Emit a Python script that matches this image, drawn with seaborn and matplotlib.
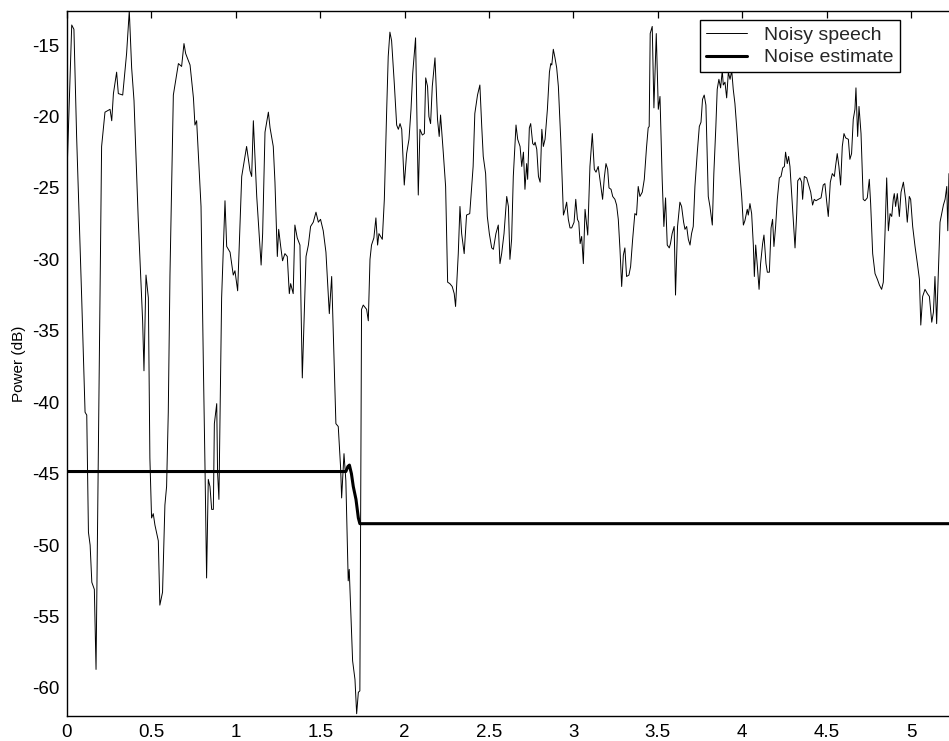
import numpy as np
import pandas as pd
import matplotlib
matplotlib.use("Agg")
import matplotlib.pyplot as plt
import seaborn as sns

# Frame power of the noisy speech signal (time in s, power in dB)
time_s = [
    0.000, 0.028, 0.041, 0.057, 0.087, 0.107, 0.117, 0.127, 0.137, 0.147,
    0.162, 0.172, 0.205, 0.225, 0.255, 0.265, 0.275, 0.294, 0.304, 0.330,
    0.353, 0.369, 0.383, 0.397, 0.422, 0.448, 0.456, 0.468, 0.482, 0.491,
    0.501, 0.511, 0.521, 0.541, 0.550, 0.566, 0.580, 0.590, 0.600, 0.610,
    0.630, 0.660, 0.679, 0.693, 0.703, 0.729, 0.749, 0.758, 0.768, 0.794,
    0.808, 0.818, 0.827, 0.837, 0.847, 0.857, 0.867, 0.873, 0.887, 0.892,
    0.900, 0.916, 0.936, 0.946, 0.966, 0.985, 0.995, 1.011, 1.035, 1.064,
    1.084, 1.094, 1.104, 1.124, 1.150, 1.159, 1.173, 1.193, 1.203, 1.222,
    1.232, 1.246, 1.254, 1.266, 1.277, 1.291, 1.305, 1.317, 1.325, 1.340,
    1.350, 1.364, 1.380, 1.394, 1.416, 1.430, 1.443, 1.459, 1.475, 1.489,
    1.502, 1.518, 1.534, 1.554, 1.568, 1.581, 1.593, 1.607, 1.621, 1.627,
    1.641, 1.652, 1.666, 1.672, 1.682, 1.692, 1.706, 1.716, 1.726, 1.735,
    1.745, 1.755, 1.775, 1.785, 1.795, 1.804, 1.818, 1.830, 1.834, 1.840,
    1.848, 1.868, 1.880, 1.894, 1.903, 1.913, 1.923, 1.939, 1.953, 1.963,
    1.973, 1.983, 1.998, 2.012, 2.026, 2.038, 2.048, 2.065, 2.081, 2.091,
    2.105, 2.117, 2.125, 2.136, 2.144, 2.154, 2.164, 2.180, 2.195, 2.205,
    2.213, 2.229, 2.243, 2.255, 2.268, 2.282, 2.294, 2.302, 2.318, 2.328,
    2.338, 2.353, 2.367, 2.386, 2.406, 2.416, 2.432, 2.446, 2.457, 2.466,
    2.480, 2.490, 2.502, 2.516, 2.526, 2.541, 2.555, 2.565, 2.575, 2.589,
    2.605, 2.615, 2.624, 2.634, 2.644, 2.660, 2.670, 2.684, 2.694, 2.704,
    2.713, 2.723, 2.729, 2.739, 2.747, 2.759, 2.767, 2.773, 2.783, 2.793,
    2.803, 2.813, 2.822, 2.832, 2.846, 2.858, 2.866, 2.872, 2.881, 2.891,
    2.901, 2.911, 2.925, 2.941, 2.951, 2.960, 2.970, 2.980, 2.990, 3.004,
    3.014, 3.024, 3.032, 3.040, 3.049, 3.059, 3.069, 3.085, 3.098, 3.112,
    3.124, 3.134, 3.147, 3.163, 3.173, 3.183, 3.193, 3.203, 3.211, 3.223,
    3.233, 3.246, 3.256, 3.266, 3.276, 3.286, 3.296, 3.305, 3.315, 3.329,
    3.339, 3.351, 3.364, 3.374, 3.384, 3.394, 3.408, 3.420, 3.433, 3.443,
    3.449, 3.455, 3.467, 3.477, 3.491, 3.503, 3.513, 3.526, 3.536, 3.546,
    3.556, 3.568, 3.575, 3.585, 3.597, 3.605, 3.617, 3.631, 3.641, 3.653,
    3.661, 3.671, 3.681, 3.691, 3.700, 3.710, 3.720, 3.734, 3.746, 3.756,
    3.765, 3.775, 3.785, 3.799, 3.809, 3.823, 3.832, 3.844, 3.852, 3.862,
    3.872, 3.882, 3.888, 3.898, 3.908, 3.918, 3.928, 3.938, 3.947, 3.957,
    3.967, 3.983, 3.997, 4.007, 4.016, 4.030, 4.036, 4.046, 4.056, 4.066,
    4.072, 4.080, 4.090, 4.100, 4.109, 4.121, 4.129, 4.141, 4.149, 4.161,
    4.171, 4.180, 4.188, 4.198, 4.208, 4.220, 4.230, 4.240, 4.250, 4.257,
    4.267, 4.275, 4.283, 4.293, 4.303, 4.313, 4.323, 4.329, 4.342, 4.352,
    4.358, 4.368, 4.382, 4.396, 4.406, 4.417, 4.427, 4.437, 4.451, 4.467,
    4.480, 4.490, 4.500, 4.510, 4.522, 4.534, 4.546, 4.553, 4.563, 4.573,
    4.583, 4.593, 4.603, 4.613, 4.629, 4.638, 4.648, 4.658, 4.668, 4.674,
    4.684, 4.692, 4.704, 4.717, 4.727, 4.741, 4.753, 4.761, 4.773, 4.787,
    4.801, 4.813, 4.826, 4.836, 4.846, 4.856, 4.866, 4.876, 4.886, 4.895,
    4.901, 4.909, 4.919, 4.931, 4.941, 4.955, 4.968, 4.978, 4.990, 4.998,
    5.010, 5.024, 5.038, 5.050, 5.058, 5.069, 5.083, 5.097, 5.109, 5.123,
    5.133, 5.142, 5.152, 5.162, 5.172, 5.182, 5.192, 5.202, 5.212, 5.218,
    5.225,
]

power_db = [
    -24.0, -13.6, -13.9, -21.4, -32.7, -40.7, -40.9, -49.1, -50.0, -52.6,
    -53.1, -58.7, -22.1, -19.7, -19.5, -20.3, -18.4, -16.9, -18.4, -18.5,
    -15.6, -12.6, -16.6, -18.9, -27.2, -34.3, -37.8, -31.1, -32.7, -43.9,
    -48.1, -47.8, -48.6, -49.7, -54.2, -53.3, -47.2, -45.9, -40.7, -31.1,
    -18.5, -16.3, -16.5, -14.9, -15.6, -16.4, -18.7, -20.6, -20.3, -26.3,
    -37.5, -44.9, -52.3, -45.4, -45.9, -47.5, -47.5, -41.5, -40.1, -44.9,
    -46.8, -32.7, -25.9, -29.1, -29.5, -31.1, -30.8, -32.2, -24.2, -22.1,
    -23.8, -24.2, -20.3, -25.6, -30.4, -28.2, -21.1, -19.7, -20.8, -22.1,
    -24.6, -29.8, -27.9, -29.1, -30.1, -29.6, -29.8, -32.4, -31.7, -32.4,
    -27.6, -28.5, -29.0, -38.3, -29.8, -29.0, -27.7, -27.4, -26.7, -27.4,
    -27.2, -28.0, -29.5, -33.8, -31.2, -36.5, -41.5, -41.7, -44.6, -46.7,
    -43.6, -45.5, -52.5, -51.7, -54.9, -58.1, -59.4, -61.8, -60.3, -60.2,
    -33.5, -33.2, -33.5, -34.3, -30.0, -29.0, -28.5, -27.1, -27.9, -29.0,
    -28.2, -28.6, -25.8, -19.5, -15.8, -14.1, -14.7, -17.7, -20.6, -20.9,
    -20.5, -20.9, -24.8, -22.6, -21.6, -19.5, -17.0, -14.5, -25.5, -20.9,
    -21.3, -21.2, -17.3, -17.9, -20.0, -20.5, -17.9, -15.9, -20.2, -21.4,
    -19.9, -22.5, -24.9, -31.6, -31.7, -31.9, -32.4, -33.3, -29.6, -26.3,
    -28.2, -29.6, -26.9, -26.8, -23.5, -19.8, -18.5, -17.8, -20.7, -22.8,
    -24.0, -27.0, -28.2, -29.2, -29.3, -28.2, -27.6, -30.3, -29.6, -28.2,
    -25.6, -26.3, -30.0, -28.6, -24.2, -20.6, -21.6, -22.1, -23.5, -22.5,
    -25.1, -23.3, -24.4, -20.8, -20.5, -21.9, -22.0, -21.8, -22.3, -24.2,
    -24.6, -20.9, -22.1, -21.6, -19.5, -16.9, -16.3, -16.4, -15.3, -15.9,
    -16.6, -17.9, -21.6, -26.9, -26.5, -26.0, -27.2, -27.8, -27.8, -27.4,
    -25.8, -27.2, -27.4, -28.9, -28.4, -30.3, -26.5, -28.3, -23.5, -21.2,
    -23.7, -23.9, -23.5, -24.9, -25.8, -24.3, -23.3, -23.7, -25.0, -25.1,
    -25.6, -25.8, -26.2, -27.2, -29.3, -31.9, -29.7, -29.2, -31.2, -31.1,
    -30.5, -28.6, -26.8, -26.9, -24.9, -25.6, -25.3, -24.4, -22.2, -20.8,
    -20.7, -14.2, -13.7, -19.4, -14.2, -19.5, -18.6, -24.4, -27.7, -25.7,
    -29.0, -29.2, -28.9, -28.2, -27.7, -32.5, -27.7, -26.0, -26.3, -27.4,
    -27.9, -27.7, -28.6, -29.0, -28.2, -27.7, -24.9, -22.5, -20.7, -20.4,
    -18.8, -18.5, -19.2, -25.6, -26.3, -27.6, -24.0, -20.7, -18.1, -17.4,
    -18.0, -16.8, -17.8, -17.6, -18.7, -16.9, -17.4, -16.8, -18.1, -19.1,
    -20.7, -23.5, -25.6, -27.6, -27.3, -26.5, -26.9, -26.1, -26.8, -29.0,
    -31.2, -29.0, -30.5, -32.1, -30.3, -28.9, -28.3, -30.3, -30.9, -30.9,
    -27.8, -27.2, -29.1, -27.7, -25.8, -24.3, -24.2, -23.6, -23.5, -22.5,
    -23.3, -22.8, -23.5, -25.4, -27.2, -29.2, -26.8, -24.5, -24.3, -24.6,
    -25.8, -24.2, -24.3, -24.9, -25.3, -26.2, -25.8, -25.9, -25.8, -25.7,
    -24.8, -24.7, -25.9, -27.0, -24.6, -24.0, -24.2, -23.5, -22.6, -23.5,
    -24.8, -22.1, -21.2, -21.5, -21.6, -23.0, -22.6, -20.2, -19.5, -18.0,
    -21.4, -19.3, -21.2, -25.8, -25.9, -25.7, -24.4, -26.1, -29.6, -31.0,
    -31.4, -31.8, -32.1, -31.6, -28.2, -24.3, -28.0, -26.8, -27.0, -25.8,
    -25.4, -26.3, -25.4, -27.0, -25.3, -24.6, -25.8, -27.4, -25.6, -25.8,
    -27.7, -29.1, -30.3, -31.4, -34.6, -32.6, -32.1, -32.4, -32.6, -34.4,
    -33.7, -31.2, -34.5, -31.0, -27.4, -26.8, -26.2, -25.8, -24.9, -28.0,
    -24.0,
]

# Tracked noise floor estimate
noise_time_s = [0.0, 1.652, 1.664, 1.673, 1.685, 1.696, 1.712, 1.726, 1.735, 5.24]
noise_db = [-44.85, -44.85, -44.5, -44.4, -45.0, -45.9, -46.8, -48.1, -48.5, -48.5]

x_ticks = [0, 0.5, 1, 1.5, 2, 2.5, 3, 3.5, 4, 4.5, 5]
x_tick_labels = ["0", "0.5", "1", "1.5", "2", "2.5", "3", "3.5", "4", "4.5", "5"]
y_ticks = [-60, -55, -50, -45, -40, -35, -30, -25, -20, -15]
y_tick_labels = ["-60", "-55", "-50", "-45", "-40", "-35", "-30", "-25", "-20", "-15"]

sns.set_theme(style="white")
plt.rcParams["font.family"] = ["Liberation Sans", "DejaVu Sans"]

speech = pd.DataFrame({"time": time_s, "power": power_db})
noise = pd.DataFrame({"time": noise_time_s, "power": noise_db})

fig = plt.figure(figsize=(9.49, 7.41), dpi=100)
ax = fig.add_axes([67 / 949, 25 / 741, 884.5 / 949, 705 / 741])

sns.lineplot(data=speech, x="time", y="power", ax=ax, color="black",
             linewidth=0.7, estimator=None, sort=False, label="Noisy speech")
sns.lineplot(data=noise, x="time", y="power", ax=ax, color="black",
             linewidth=2.2, estimator=None, sort=False, label="Noise estimate")

ax.set_xlim(0, 5.24)
ax.set_ylim(-61.96, -12.62)
ax.set_xticks(x_ticks)
ax.set_xticklabels(x_tick_labels)
ax.set_yticks(y_ticks)
ax.set_yticklabels(y_tick_labels)
ax.tick_params(direction="in", top=True, right=False, length=5.3, width=0.9,
               labelsize=13.5, colors="black", pad=5.5)
ax.set_xlabel("")
ax.set_ylabel("Power (dB)", fontsize=11, color="black", labelpad=4)
for spine in ax.spines.values():
    spine.set_visible(True)
    spine.set_color("black")
    spine.set_linewidth(1.0)

leg = ax.legend(loc="upper right", bbox_to_anchor=(0.9418, 0.987),
                borderaxespad=0, fontsize=14, handlelength=2.1,
                handletextpad=0.9, labelspacing=0.26, borderpad=0.31,
                fancybox=False, framealpha=1, edgecolor="black")
leg.get_frame().set_linewidth(1.0)

fig.savefig("out.png", dpi=100)
